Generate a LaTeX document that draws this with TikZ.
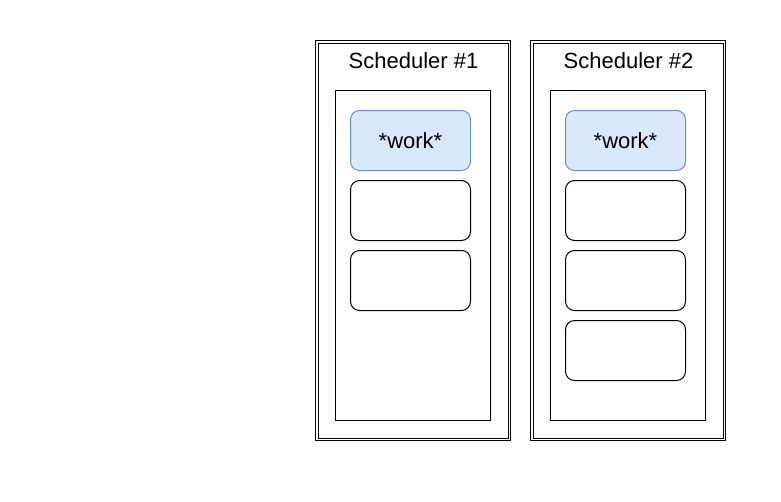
\documentclass[tikz,border=0pt]{standalone}
\usepackage{fontspec}
\setmainfont{Liberation Sans}
\definecolor{bluefill}{HTML}{DAE8FC}
\definecolor{bluedraw}{HTML}{6C8EBF}
\begin{document}
\begin{tikzpicture}[x=1pt,y=-1pt,line width=1pt,
  queue/.style={draw=black,fill=white,rounded corners=9pt},
  workbox/.style={draw=bluedraw,fill=bluefill,rounded corners=9pt},
  lbl/.style={font=\fontsize{22}{26}\selectfont,inner sep=0pt}]
\useasboundingbox (0,0) rectangle (781,501);
% Scheduler 1
\draw (315.5,40.5) rectangle (510.5,440.5);
\draw (318,43) rectangle (508,438);
\node[lbl] (t1) at (413.5,61) {Scheduler \#1};
\draw (335.5,90.5) rectangle (490.5,420.5);
\draw[workbox] (350.5,110.5) rectangle (470.5,170.5);
\node[lbl] (w1) at (410.5,140.5) {*work*};
\draw[queue] (350.5,180.5) rectangle (470.5,240.5);
\draw[queue] (350.5,250.5) rectangle (470.5,310.5);
% Scheduler 2
\draw (530.5,40.5) rectangle (725.5,440.5);
\draw (533,43) rectangle (723,438);
\node[lbl] (t2) at (628.5,61) {Scheduler \#2};
\draw (550.5,90.5) rectangle (705.5,420.5);
\draw[workbox] (565.5,110.5) rectangle (685.5,170.5);
\node[lbl] (w2) at (625.5,140.5) {*work*};
\draw[queue] (565.5,180.5) rectangle (685.5,240.5);
\draw[queue] (565.5,250.5) rectangle (685.5,310.5);
\draw[queue] (565.5,320.5) rectangle (685.5,380.5);
\end{tikzpicture}
\end{document}
